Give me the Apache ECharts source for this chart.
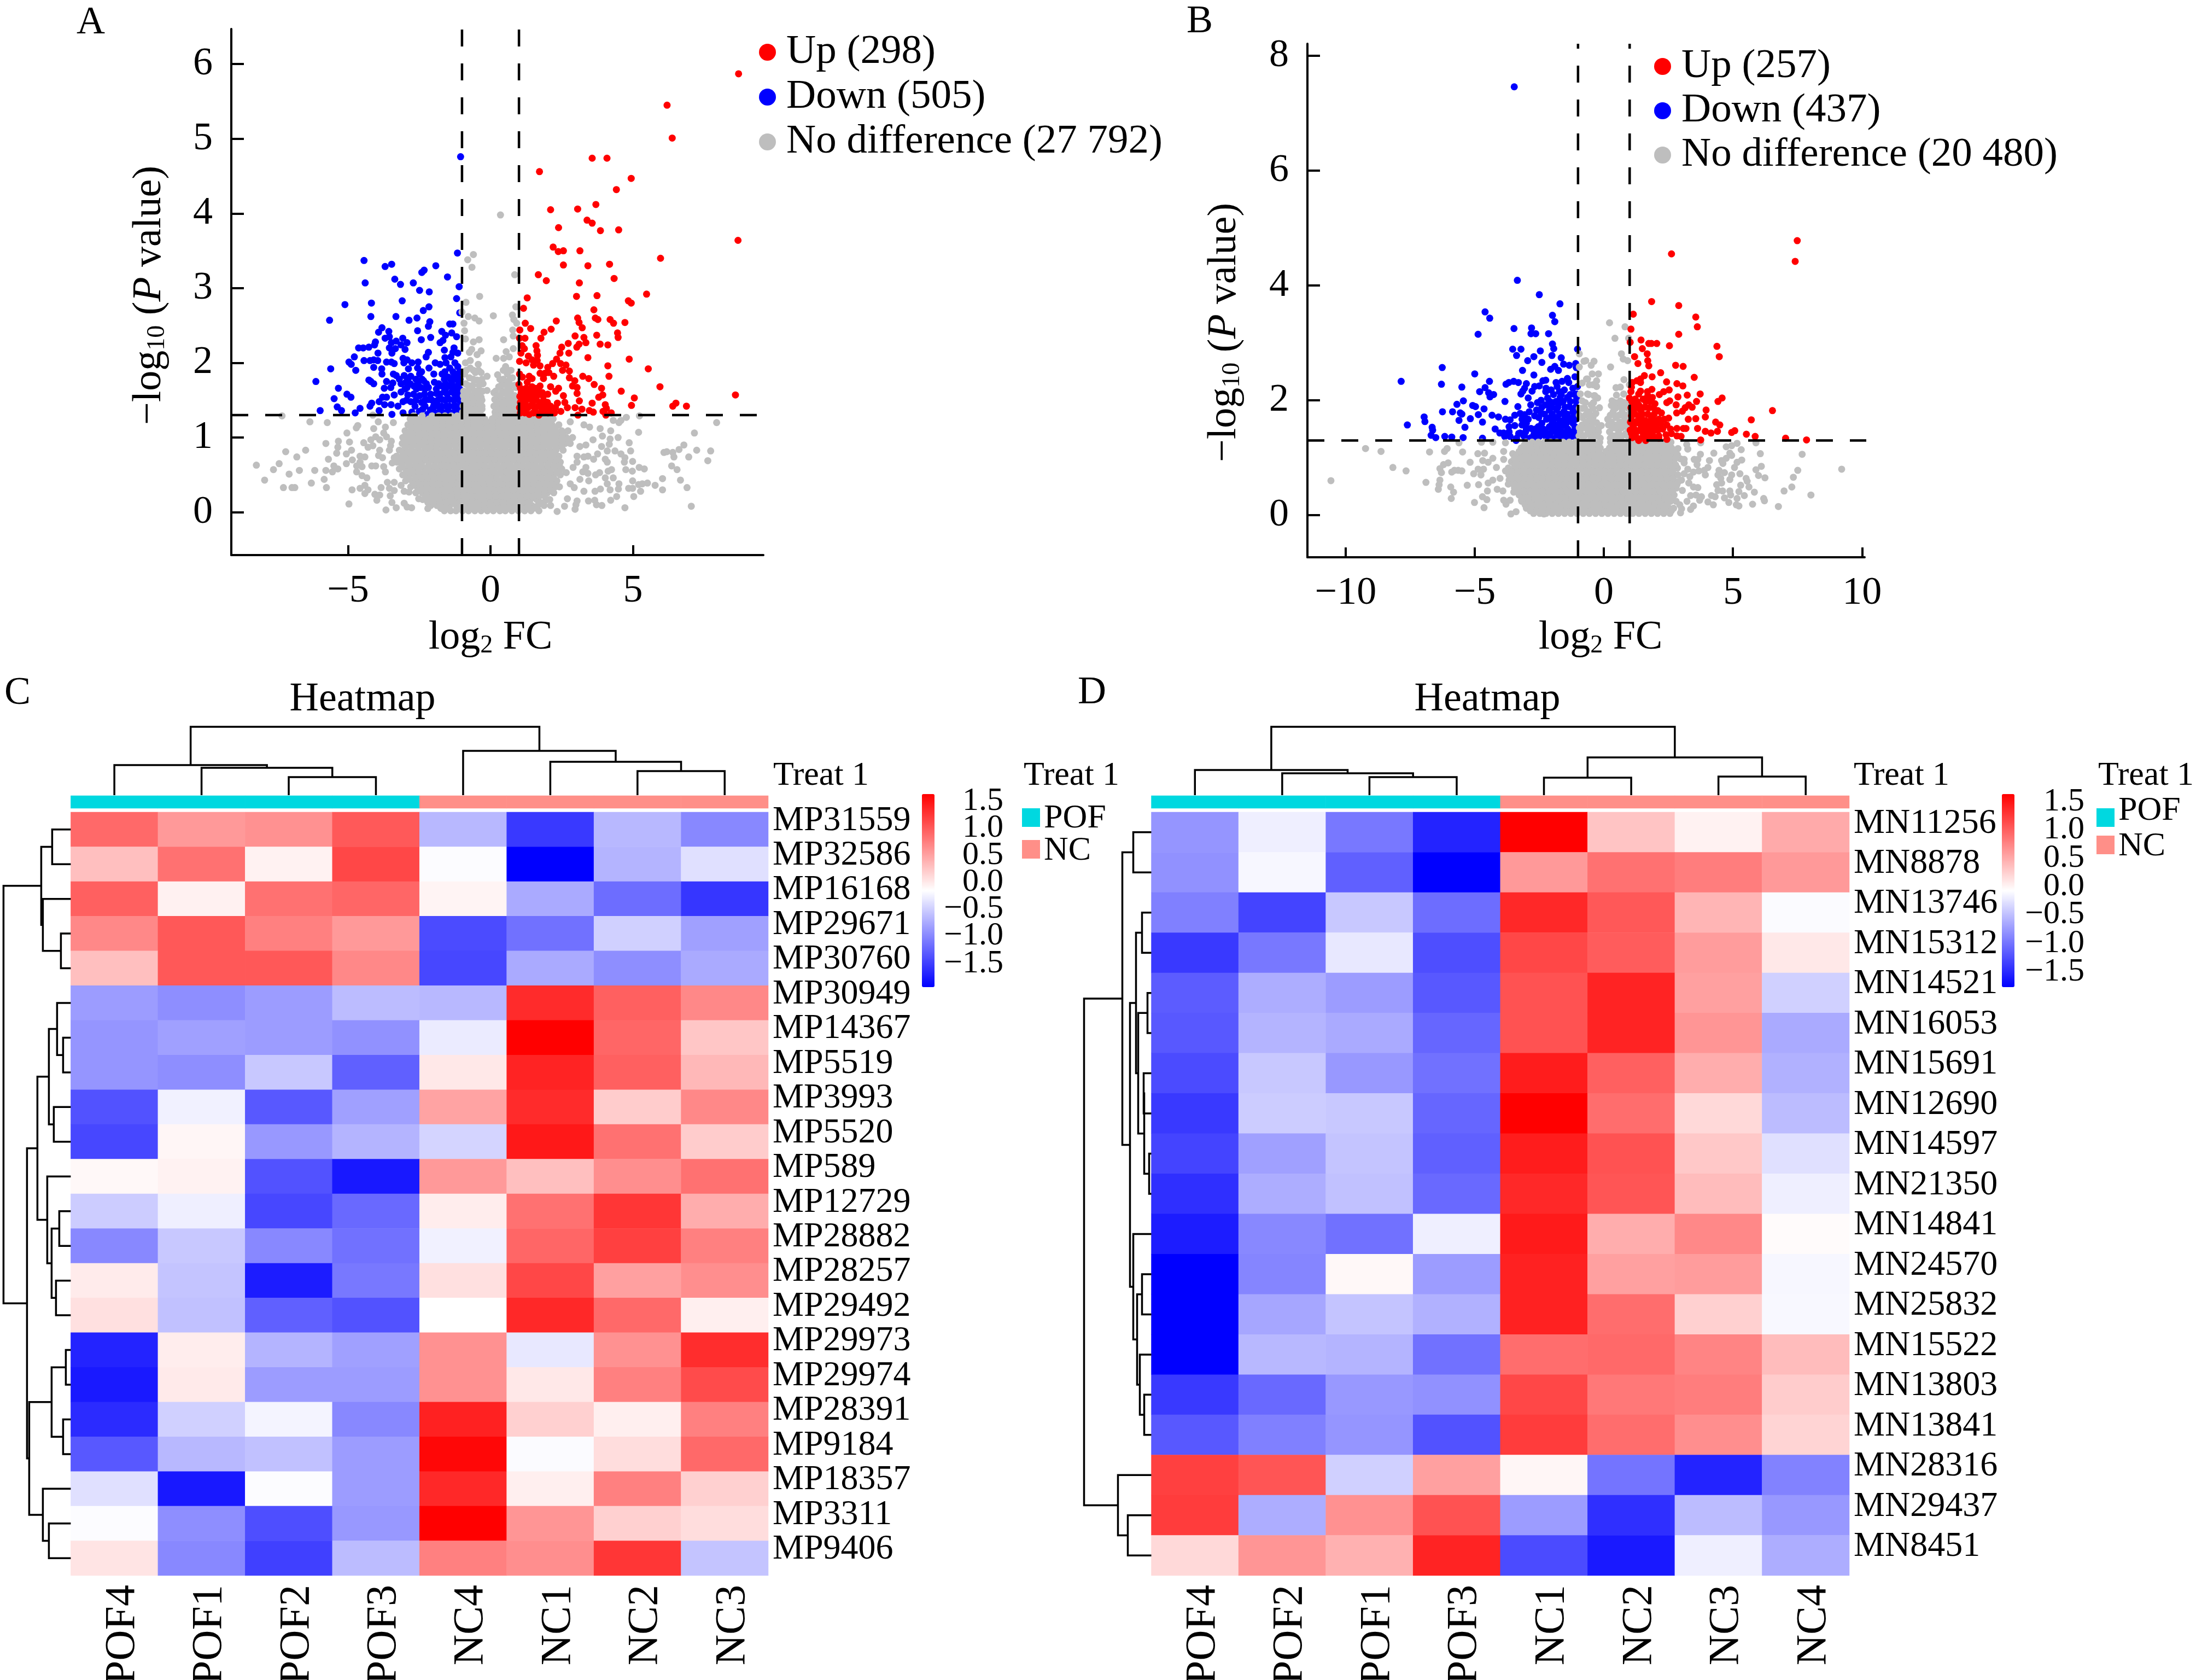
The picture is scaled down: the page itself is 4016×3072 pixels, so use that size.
<!DOCTYPE html>
<html><head><meta charset="utf-8">
<script src="https://cdn.jsdelivr.net/npm/echarts@6/dist/echarts.min.js"></script>
<style>html,body{margin:0;padding:0;background:#fff}#c{width:4016px;height:3072px}</style>
</head><body><div id="c"></div>
<script>
const FONT='"Liberation Serif"';
const fcCut=[-1,1], pCut=1.3;
const aUp=[[8.71,5.87],[6.2,5.45],[6.38,5.01],[3.57,4.74],[4.09,4.74],[1.72,4.56],[4.94,4.47],[4.42,4.32],[2.11,4.05],[3.06,4.06],[3.7,4.12],[3.39,3.91],[3.57,3.87],[2.39,3.81],[3.86,3.77],[4.5,3.78],[8.69,3.64],[5.97,3.4],[2.2,3.55],[2.38,3.49],[2.56,3.5],[3.14,3.5],[2.56,3.31],[3.42,3.3],[4.18,3.32],[1.68,3.18],[1.96,3.1],[4.34,3.13],[3.12,3.07],[5.48,2.92],[3.02,2.89],[3.74,2.9],[1.29,2.87],[4.84,2.83],[4.94,2.8],[1.16,2.73],[3.63,2.71],[3.06,2.6],[3.68,2.6],[3.77,2.58],[4.2,2.58],[4.32,2.53],[4.72,2.54],[2.31,2.56],[3.11,2.54],[3.22,2.47],[1.22,2.53],[1.41,2.46],[1.03,2.44],[2.13,2.45],[1.88,2.41],[4.46,2.4],[4.48,2.34],[3.73,2.37],[2.97,2.36],[3.28,2.34],[1.77,2.33],[1.21,2.33],[1.02,2.33],[3.35,2.27],[2.73,2.26],[3.11,2.25],[3.03,2.21],[3.85,2.25],[4.12,2.24],[2.5,2.21],[1.6,2.23],[1.11,2.23],[1.19,2.19],[1.07,2.13],[1.63,2.16],[2.44,2.13],[2.75,2.13],[3.42,2.07],[4.87,2.05],[1.33,2.09],[1.65,2.1],[1.02,2.02],[2.32,2.05],[1.46,2.04],[1.64,2.03],[1.25,2],[1.51,1.97],[1.74,1.96],[2.18,1.99],[2.46,1.99],[2.65,1.97],[2.01,1.94],[4.12,1.96],[5.54,1.92],[2.53,1.9],[2.77,1.89],[1.74,1.86],[1.91,1.86],[2.05,1.87],[1.02,1.85],[4.16,1.82],[2.22,1.82],[1.36,1.82],[1.46,1.79],[1.12,1.81],[3.24,1.82],[3.45,1.79],[2.77,1.8],[1.86,1.79],[1.29,1.74],[2.96,1.76],[1,1.71],[3.64,1.71],[1.74,1.69],[1.46,1.68],[2.88,1.69],[2.11,1.68],[2.39,1.66],[3.04,1.67],[3.9,1.66],[5.95,1.68],[4.59,1.62],[2.29,1.62],[1.12,1.63],[1.33,1.63],[1.53,1.61],[1.74,1.59],[2.01,1.58],[3.04,1.59],[2.56,1.56],[3.94,1.57],[3.8,1.54],[5.05,1.53],[8.6,1.57],[1.12,1.54],[1.36,1.52],[1.6,1.51],[1.91,1.48],[2.35,1.46],[2.61,1.47],[3.12,1.49],[3.57,1.46],[4.03,1.44],[4.95,1.43],[6.4,1.42],[6.51,1.46],[6.88,1.42],[1.16,1.44],[1.43,1.43],[1.67,1.42],[2.11,1.42],[2.7,1.4],[2.97,1.4],[3.21,1.38],[3.47,1.36],[3.61,1.34],[4.07,1.39],[4.24,1.33],[3.95,1.35],[2.47,1.35],[1.09,1.35],[1.36,1.31],[1.7,1.3],[1.91,1.35],[2.11,1.34],[3.07,1.3],[4.05,1.3]];
const aUpFill=[[1.33,1.05,1.2,1.5,1.62,1.8,2.02,2.25],[1.4,1.02,1.24,1.32,1.55,1.78,1.85,2.0,2.28],[1.47,1.05,1.22,1.48,1.72,1.8,2.0],[1.55,1.03,1.25,1.47,1.62,1.85],[1.6,1.08,1.22,1.42,1.62,1.82],[1.66,1.05,1.25,1.55,1.65]];
const aDown=[[-1.05,4.76],[-1.16,3.47],[-4.44,3.37],[-3.7,3.29],[-3.47,3.32],[-2.41,3.21],[-2.33,3.24],[-1.92,3.3],[-1.51,3.15],[-3.36,3.12],[-3.16,3.05],[-2.71,3.07],[-4.4,3.07],[-1.1,3.02],[-2.49,2.97],[-2.15,2.95],[-1.19,2.86],[-3.1,2.83],[-4.18,2.8],[-5.11,2.78],[-2.16,2.75],[-2.36,2.7],[-1.08,2.67],[-4.2,2.62],[-3.32,2.62],[-2.58,2.6],[-2.86,2.57],[-5.65,2.57],[-2.13,2.55],[-2.18,2.49],[-1.43,2.52],[-1.32,2.52],[-3.81,2.47],[-3.93,2.41],[-3.57,2.42],[-2.56,2.43],[-1.71,2.42],[-1.36,2.4],[-1.58,2.37],[-1.19,2.35],[-3.7,2.33],[-3.55,2.35],[-2.1,2.34],[-2.43,2.31],[-3.08,2.33],[-3.31,2.29],[-2.93,2.27],[-1.67,2.3],[-1.77,2.27],[-4.04,2.28],[-4.07,2.24],[-3.48,2.27],[-3.14,2.24],[-3.55,2.2],[-3.34,2.19],[-3,2.18],[-4.63,2.2],[-4.47,2.2],[-4.27,2.21],[-1.28,2.2],[-3.95,2.13],[-3.46,2.13],[-2.18,2.14],[-1.62,2.17],[-1.15,2.13],[-1.32,2.14],[-2.26,2.08],[-1.39,2.08],[-4.78,2.08],[-4.97,2.01],[-4.89,1.98],[-4.44,2.03],[-4.23,2.03],[-4.1,2.04],[-3.96,2.03],[-3.65,2.01],[-3.48,2.01],[-3.38,1.99],[-3.07,2.06],[-2.93,2.04],[-3.04,2],[-4.1,1.94],[-3.82,1.92],[-4.73,1.9],[-5.61,1.92],[-2.76,2],[-2.54,2.01],[-1.94,2],[-1.77,1.98],[-1.6,2.07],[-1.56,2],[-1.25,2],[-1.15,1.95],[-2.88,1.92],[-2.56,1.93],[-2.16,1.93],[-1.43,1.93],[-1.99,1.85],[-3.81,1.85],[-3.41,1.85],[-3.31,1.83],[-3.03,1.83],[-2.8,1.82],[-2.49,1.85],[-1.7,1.85],[-1.15,1.85],[-6.13,1.75],[-4.27,1.77],[-4.1,1.72],[-4.2,1.75],[-3.65,1.75],[-3.43,1.73],[-3.14,1.72],[-2.97,1.74],[-2.35,1.76],[-1.97,1.74],[-1.49,1.81],[-1.29,1.81],[-5.34,1.66],[-3.73,1.66],[-3.5,1.67],[-2.93,1.67],[-2.69,1.69],[-2.45,1.67],[-2.18,1.67],[-1.7,1.69],[-1.43,1.69],[-1.15,1.69],[-5.04,1.58],[-4.9,1.54],[-5.49,1.52],[-3.38,1.57],[-3.14,1.61],[-2.9,1.57],[-2.49,1.56],[-1.9,1.59],[-1.63,1.61],[-1.36,1.61],[-1.15,1.59],[-3.65,1.54],[-3.79,1.54],[-3.91,1.48],[-3.72,1.44],[-3.49,1.44],[-4.17,1.46],[-4.23,1.42],[-5.38,1.41],[-5.23,1.36],[-5.98,1.36],[-3.25,1.42],[-3.07,1.48],[-2.8,1.48],[-2.42,1.47],[-2.18,1.51],[-1.97,1.48],[-1.7,1.51],[-1.43,1.51],[-1.15,1.51],[-4.58,1.39],[-4.75,1.33],[-3.91,1.36],[-3.46,1.31],[-3.07,1.33],[-2.76,1.34],[-2.38,1.38],[-2.11,1.37],[-1.84,1.42],[-1.56,1.42],[-1.29,1.42],[-1.15,1.35],[-2.21,1.31],[-1.84,1.33],[-1.56,1.33],[-1.36,1.33]];
const aDownFill=[[1.35,-2.5,-2.0,-1.72,-1.48,-1.25,-1.08],[1.42,-2.65,-2.3,-2.0,-1.72,-1.45,-1.2,-1.06],[1.5,-2.95,-2.62,-2.3,-2.05,-1.85,-1.58,-1.28,-1.08],[1.58,-2.7,-2.32,-2.1,-1.78,-1.52,-1.26,-1.06],[1.65,-3.0,-2.6,-2.3,-1.9,-1.58,-1.28,-1.08],[1.72,-2.82,-2.55,-2.25,-1.82,-1.58,-1.36,-1.12],[1.78,-3.2,-2.9,-2.62,-2.4,-1.62,-1.4,-1.2,-1.07],[1.88,-2.42,-1.6,-1.32,-1.08]];
const aGrayPts=[[-.6,3.45],[-.8,3.38],[-.65,3.28],[.85,3.18],[.35,3.98],[-.38,2.89],[-.86,2.81],[.89,2.75],[.1,2.63],[-1,2.68],[-.78,2.62],[-.55,2.6],[-.4,2.56],[-.93,2.53],[.77,2.64],[.82,2.58],[.92,2.53],[-.91,2.43],[.78,2.44],[.8,2.36],[-.88,2.32],[-.6,2.28],[-.4,2.31],[.46,2.31],[.8,2.19],[-.66,2.18],[-.33,2.16],[-.74,2.14],[-.47,2.11],[.55,2.15],[.2,2.06],[.46,2.06],[.66,2.08],[-.71,2.03],[-.88,2],[-.43,1.98],[.53,1.95],[-.71,1.93],[-.53,1.87],[-.33,1.87],[-.12,1.82],[.25,1.84],[.59,1.85],[-.91,1.85],[-.74,1.8],[-.47,1.77],[-.88,1.72],[-.26,1.72],[.53,1.74],[.77,1.8],[.29,1.68],[-.67,1.67],[-.4,1.64],[-.12,1.63],[.12,1.6],[.63,1.67],[.9,1.67],[-.88,1.59],[-.6,1.56],[-.33,1.54],[.42,1.59],[.73,1.56],[.15,1.51],
[-7.32,1.29],[-6.34,1.21],[-5.73,1.2],[-4.66,1.16],[-4.71,1.13],[-3.94,1.21],[-4.13,1.3],[-5.04,1.06],[-4.1,1.12],[-3.69,1.14],[-3.41,1.2],[-3.75,1.06],[-4.03,1.01],[-4.2,.97],[-3.89,.97],[-3.65,1.01],[-5.34,.95],[-4.95,.94],[-5.78,.92],[-4.45,.93],[-3.48,.95],[-3.51,.89],[-5.36,.87],[-4.13,.89],[-4.3,.87],[-6.49,.83],[-7.19,.81],[-5.4,.79],[-4.88,.83],[-5.06,.78],[-3.89,.83],[-3.55,.83],[-6.8,.74],[-5.69,.71],[-4.85,.7],[-4.58,.75],[-4.41,.74],[-3.93,.76],[-3.79,.73],[-8.22,.63],[-7.42,.65],[-5.06,.65],[-4.58,.67],[-3.38,.73],[-3.45,.66],[-7.62,.57],[-6.71,.56],[-6.17,.56],[-5.78,.56],[-5.5,.62],[-5.36,.58],[-5.55,.54],[-4.7,.62],[-4.51,.61],[-4.17,.62],[-4.03,.62],[-3.75,.61],[-4.7,.54],[-3.69,.54],[-7.07,.51],[-4.51,.49],[-4.34,.46],[-7.93,.43],[-5.84,.44],[-6.29,.39],[-7.27,.33],[-6.97,.33],[-6.87,.33],[-5.76,.33],[-4.41,.36],[-4.58,.32],[-4.3,.3],[-4.41,.25],[-4.86,.3],[-3.84,.33],[-3.62,.4],[-3.38,.4],[-3.55,.32],[-3.38,.29],[-4.06,.24],[-3.89,.23],[-3.99,.16],[-3.52,.22],[-3.46,.13],[-4.97,.11],[-3.03,.12],[-2.93,.07],[-2.77,.06],[-3.31,.06],[-3.67,.03],[-2.52,.18],[-2.2,.05],[-1.72,.05],[-3.03,.28],[-2.86,.27],[-3.14,.36],
[4.77,1.27],[5.23,1.29],[7.94,1.2],[4.31,1.23],[4.51,1.2],[4.58,1.23],[2.8,1.21],[3.28,1.17],[3.48,1.14],[3.85,1.12],[4.22,1.09],[5.2,1.07],[7.16,1.06],[3.93,1.02],[4.48,1],[4.2,.98],[3.6,.97],[4.87,.93],[6.79,.9],[3.35,.9],[3.14,.88],[3.9,.88],[4.17,.91],[4.1,.82],[4.37,.82],[4.92,.82],[6.62,.84],[7.24,.83],[7.73,.82],[6.09,.8],[6.19,.81],[6.4,.8],[6.44,.74],[6.96,.74],[7.63,.69],[4.58,.78],[4.72,.73],[3.76,.78],[3.62,.71],[3.28,.74],[3.42,.75],[4.03,.71],[4.1,.67],[4.7,.67],[4.99,.68],[3.04,.75],[3.04,.67],[2.9,.6],[3.35,.6],[6.36,.62],[6.55,.57],[5.22,.6],[5.4,.58],[4.75,.57],[4.98,.55],[4.25,.57],[4.13,.55],[3.24,.54],[3.42,.52],[3.83,.53],[3.69,.5],[2.66,.53],[4.03,.46],[4.31,.46],[6.04,.45],[6.67,.43],[4.99,.42],[5.51,.39],[5.33,.38],[5.2,.37],[5.78,.36],[3.45,.42],[3.14,.44],[4.1,.38],[4.51,.38],[4.85,.32],[4.99,.32],[4.49,.31],[4.2,.3],[6.04,.3],[6.9,.33],[5.27,.28],[3.86,.31],[3.67,.28],[3.28,.28],[2.94,.33],[2.8,.38],[4.43,.21],[5.03,.21],[4.22,.16],[3.66,.16],[3.44,.15],[3.04,.15],[2.7,.18],[3.72,.1],[3.91,.09],[3,.1],[2.97,.04],[2.6,.08],[2.34,.01],[4.72,.06],[7.05,.08],[1.7,.02],[2.11,.09],[1.94,.16]];
const aGrayRows=[
[.02,-1.62,-1.4,-1.21,-.98,-.77,-.55,-.33,-.11,.1,.33,.52,.75,.98,1.2,1.42],
[.09,-2.1,-1.88,-1.65,-1.43,-1.2,-.99,-.78,-.54,-.32,-.1,.12,.34,.56,.78,.99,1.22,1.45,1.66,1.88],
[.17,-2.38,-2.15,-1.92,-1.7,-1.5,-1.27,-1.03,-.82,-.6,-.38,-.15,.07,.3,.5,.73,.95,1.17,1.4,1.62,2.08],
[.26,-2.62,-2.4,-2.18,-1.96,-1.73,-1.52,-1.3,-1.08,-.85,-.63,-.42,-.2,.02,.25,.46,.68,.9,1.12,1.35,1.56,1.78,2,2.22],
[.34,-2.8,-2.58,-2.35,-2.13,-1.9,-1.68,-1.47,-1.25,-1.02,-.8,-.58,-.36,-.14,.08,.3,.52,.74,.96,1.18,1.4,1.62,1.84,2.06,2.28,2.42],
[.42,-2.98,-2.76,-2.53,-2.32,-2.1,-1.88,-1.65,-1.43,-1.2,-.98,-.77,-.55,-.32,-.1,.12,.35,.57,.78,1,1.22,1.45,1.67,1.88,2.1,2.33],
[.5,-3.08,-2.85,-2.63,-2.42,-2.2,-1.97,-1.75,-1.52,-1.3,-1.08,-.86,-.64,-.43,-.2,.02,.24,.46,.68,.9,1.12,1.34,1.56,1.78,2,2.22,2.45],
[.58,-3.2,-2.98,-2.75,-2.53,-2.3,-2.08,-1.86,-1.64,-1.42,-1.2,-.98,-.75,-.54,-.32,-.1,.13,.35,.57,.79,1.01,1.23,1.45,1.67,1.89,2.11,2.33,2.5],
[.67,-3.28,-3.06,-2.84,-2.62,-2.4,-2.17,-1.95,-1.73,-1.5,-1.28,-1.06,-.85,-.63,-.41,-.19,.03,.25,.47,.69,.91,1.13,1.35,1.57,1.79,2.01,2.23,2.45],
[.75,-3.3,-3.1,-2.88,-2.66,-2.44,-2.22,-2,-1.78,-1.55,-1.33,-1.12,-.9,-.68,-.46,-.24,-.02,.2,.42,.64,.86,1.08,1.3,1.52,1.74,1.96,2.18,2.4],
[.83,-3.2,-2.98,-2.76,-2.54,-2.31,-2.09,-1.88,-1.66,-1.44,-1.22,-1,-.78,-.56,-.34,-.12,.1,.32,.54,.76,.98,1.2,1.42,1.64,1.86,2.08,2.3,2.55],
[.92,-3.1,-2.88,-2.66,-2.44,-2.22,-2,-1.78,-1.56,-1.34,-1.12,-.9,-.68,-.46,-.24,-.02,.2,.42,.64,.86,1.08,1.3,1.52,1.74,1.96,2.18,2.4,2.62,2.8],
[1,-3.08,-2.86,-2.64,-2.42,-2.2,-1.98,-1.76,-1.54,-1.32,-1.1,-.88,-.66,-.44,-.22,0,.22,.44,.66,.88,1.1,1.32,1.54,1.76,1.98,2.2,2.42,2.66,2.88],
[1.09,-3,-2.78,-2.56,-2.34,-2.12,-1.9,-1.68,-1.46,-1.24,-1.02,-.8,-.58,-.36,-.14,.08,.3,.52,.74,.96,1.18,1.4,1.62,1.84,2.06,2.28,2.5,2.72],
[1.17,-2.9,-2.68,-2.46,-2.24,-2.02,-1.8,-1.58,-1.36,-1.14,-.92,-.7,-.48,-.26,-.04,.18,.4,.62,.84,1.06,1.28,1.5,1.72,1.94,2.16,2.4],
[1.25,-2.82,-2.6,-2.38,-2.16,-1.94,-1.72,-1.5,-1.28,-1.06,-.84,-.62,-.4,-.2,.06,.28,.5,.72,.94,1.16,1.38,1.6,1.82,2.04,2.2],
[1.34,-.98,-.78,-.58,-.38,.16,.36,.56,.76,.95],[1.42,-.96,-.74,-.52,-.3,.12,.32,.52,.72,.9],[1.5,-.92,-.72,-.5,-.3,.3,.5,.7,.92],[1.62,-.94,-.78,-.55,-.28,.18,.42,.55,.7]];
const aGrayRows2=[
[.055,-1.75,-1.5,-1.1,-.87,-.66,-.43,-.2,.02,.21,.45,.64,.87,1.1,1.32,1.55],
[.13,-2.2,-2,-1.78,-1.53,-1.31,-1.09,-.87,-.66,-.42,-.2,.01,.23,.45,.67,.89,1.1,1.33,1.75],
[.215,-2.25,-2,-1.8,-1.6,-1.38,-1.14,-.93,-.7,-.48,-.26,-.05,.18,.4,.62,.84,1.06,1.28,1.5,1.72,1.9],
[.3,-2.5,-2.28,-2.06,-1.84,-1.62,-1.4,-1.18,-.96,-.74,-.52,-.3,-.08,.14,.36,.58,.8,1.02,1.24,1.46,1.68,1.9,2.12],
[.38,-2.7,-2.46,-2.24,-2.02,-1.8,-1.58,-1.36,-1.14,-.9,-.68,-.46,-.24,-.02,.2,.42,.64,.86,1.08,1.3,1.52,1.74,1.96,2.18],
[.46,-2.88,-2.64,-2.42,-2.2,-1.98,-1.76,-1.54,-1.32,-1.1,-.88,-.66,-.44,-.22,0,.22,.46,.68,.9,1.12,1.34,1.56,1.78,2,2.22],
[.54,-2.95,-2.74,-2.52,-2.3,-2.08,-1.86,-1.64,-1.42,-1.2,-.97,-.75,-.53,-.31,-.09,.13,.35,.57,.79,1.01,1.23,1.45,1.67,1.89,2.11,2.34],
[.625,-3.1,-2.86,-2.64,-2.42,-2.18,-1.96,-1.74,-1.53,-1.31,-1.09,-.86,-.65,-.43,-.21,.02,.24,.46,.68,.9,1.12,1.34,1.56,1.78,2,2.22,2.42],
[.71,-3.17,-2.95,-2.73,-2.51,-2.29,-2.06,-1.84,-1.62,-1.39,-1.17,-.96,-.74,-.52,-.3,-.08,.14,.36,.58,.8,1.02,1.24,1.46,1.68,1.9,2.12,2.34],
[.79,-3.02,-2.82,-2.6,-2.38,-2.16,-1.94,-1.72,-1.5,-1.28,-1.05,-.84,-.62,-.4,-.18,.04,.26,.48,.7,.92,1.14,1.36,1.58,1.8,2.02,2.24],
[.875,-3.0,-2.77,-2.55,-2.33,-2.11,-1.89,-1.67,-1.45,-1.23,-1.01,-.79,-.57,-.35,-.13,.09,.31,.53,.75,.97,1.19,1.41,1.63,1.85,2.07,2.29,2.5],
[.96,-2.98,-2.76,-2.54,-2.32,-2.1,-1.88,-1.66,-1.44,-1.22,-1,-.78,-.56,-.34,-.12,.1,.32,.54,.76,.98,1.2,1.42,1.64,1.86,2.08,2.3,2.52,2.75],
[1.045,-2.96,-2.74,-2.52,-2.3,-2.08,-1.86,-1.64,-1.42,-1.2,-.98,-.76,-.54,-.32,-.1,.12,.34,.56,.78,1,1.22,1.44,1.66,1.88,2.1,2.32,2.54],
[1.13,-2.78,-2.56,-2.34,-2.12,-1.9,-1.68,-1.46,-1.24,-1.02,-.8,-.58,-.36,-.14,.08,.3,.52,.74,.96,1.18,1.4,1.62,1.84,2.06,2.28],
[1.21,-2.78,-2.56,-2.34,-2.12,-1.9,-1.68,-1.46,-1.24,-1.02,-.8,-.58,-.36,-.14,.08,.3,.52,.74,.96,1.18,1.4,1.62,1.84,2.06],
[1.29,-2.7,-2.4,-2.05,-1.82,-1.6,-1.38,-1.17,-.95,-.72,-.5,-.3,.17,.4,.62,.84,1.05,1.28,1.5,1.7,1.95],
[1.38,-.87,-.68,-.47,-.3,.25,.46,.66,.86],[1.46,-.85,-.62,-.4,.22,.42,.62,.82],[1.56,-.95,-.78,-.62,-.45,.25,.35,.6,.85],[1.7,-.8,-.62,-.4,.38,.55,.72,.85],[1.78,-.6,-.3,.33,.45,.68],[1.9,-.85,-.6,-.42,.45,.62,.72]];
const bUp=[[7.49,4.78],[7.41,4.42],[2.62,4.55],[1.85,3.72],[2.9,3.65],[1.14,3.5],[3.56,3.45],[3.62,3.28],[1.05,3.24],[2.9,3.15],[1.02,3.01],[1.44,3.05],[1.74,2.99],[2.05,2.99],[1.84,2.99],[2.54,2.95],[4.38,2.94],[4.47,2.76],[1.49,2.9],[1.68,2.81],[1.19,2.76],[1.7,2.69],[1.74,2.6],[1.32,2.64],[2.78,2.61],[3.07,2.59],[2.2,2.48],[1.87,2.41],[1.57,2.43],[3.5,2.4],[1.42,2.37],[1.28,2.34],[2.43,2.32],[1.1,2.31],[1.42,2.31],[2.83,2.29],[3.06,2.25],[1.07,2.23],[2.53,2.18],[2.32,2.15],[2.15,2.1],[1.86,2.19],[1.69,2.15],[1.42,2.16],[1.05,2.15],[1.35,2.11],[3.23,2.09],[3.73,2.11],[2.87,2.06],[1.88,2.05],[1.7,2.08],[.99,2.04],[1.21,2.02],[1.52,2.02],[4.58,2.04],[4.42,1.98],[3.59,1.98],[2.55,1.99],[2.44,1.96],[1.98,1.94],[1.14,1.94],[1.35,1.92],[1.6,1.88],[2.8,1.92],[3.29,1.92],[3.15,1.87],[3.42,1.88],[3.96,1.83],[6.53,1.82],[2.09,1.82],[2.23,1.78],[3.04,1.81],[2.82,1.78],[1.14,1.8],[1.42,1.83],[3.93,1.71],[1.84,1.71],[1.35,1.72],[1.07,1.73],[5.71,1.66],[3.27,1.67],[3.56,1.68],[2.51,1.69],[2.34,1.67],[2.13,1.67],[1.6,1.65],[1.03,1.62],[4.33,1.62],[4.49,1.57],[1.28,1.61],[1.91,1.57],[2.2,1.59],[2.44,1.57],[3.63,1.51],[2.83,1.51],[3.08,1.51],[3.18,1.51],[2.28,1.5],[2.58,1.5],[1.14,1.54],[1.56,1.54],[1.81,1.51],[3.93,1.46],[4.15,1.43],[4.4,1.46],[4.95,1.44],[5.07,1.47],[5.52,1.41],[5.86,1.37],[7.04,1.34],[7.85,1.31],[3.75,1.31],[2.99,1.37],[2.83,1.38],[2.62,1.42],[2.13,1.38],[2.41,1.4],[1.07,1.42],[1.24,1.43],[1.49,1.45],[1.7,1.42],[1.88,1.42],[1.35,1.3],[1.62,1.3],[2.44,1.32],[1.1,1.35],[1.49,1.35],[1.77,1.35],[2.13,1.34]];
const bUpFill=[[1.36,1.25,1.62,1.92],[1.48,1.02,1.22,1.38,1.65,1.95,2.1],[1.58,1.12,1.42,1.72,2.05],[1.65,1.08,1.32,1.48,1.82,2.0],[1.76,1.2,1.5,1.7,1.95],[1.87,1.05,1.25,1.5,1.75,1.92],[1.98,1.08,1.28,1.62,1.8]];
const bDown=[[-3.47,7.46],[-3.35,4.09],[-2.5,3.84],[-1.7,3.68],[-4.6,3.54],[-4.42,3.43],[-1.99,3.48],[-1.9,3.37],[-3.48,3.25],[-2.8,3.26],[-2.82,3.16],[-2.64,3.16],[-2.14,3.16],[-4.87,3.15],[-3.53,2.89],[-3.21,2.89],[-2.46,2.86],[-3.38,2.78],[-2.71,2.76],[-1.99,2.98],[-1.94,2.9],[-2.01,2.78],[-1.02,2.89],[-1.65,2.74],[-2.95,2.69],[-2.4,2.66],[-1.56,2.63],[-1.34,2.61],[-1.09,2.64],[-1.07,2.57],[-2.06,2.54],[-1.9,2.59],[-1.76,2.52],[-6.26,2.57],[-5,2.46],[-3.15,2.52],[-2.71,2.44],[-1.12,2.41],[-7.85,2.33],[-6.29,2.28],[-4.43,2.33],[-5.5,2.23],[-3.79,2.28],[-3.68,2.31],[-3.49,2.33],[-3.31,2.31],[-3,2.29],[-2.36,2.34],[-2.25,2.35],[-1.85,2.31],[-1.62,2.33],[-1.41,2.38],[-1.36,2.31],[-1.81,2.24],[-4.6,2.22],[-4.81,2.15],[-4.46,2.13],[-4.27,2.1],[-4.41,2.06],[-3.07,2.21],[-3.14,2.16],[-3.21,2.11],[-2.68,2.24],[-2.78,2.16],[-2.5,2.25],[-2.24,2.21],[-2.25,2.15],[-2.04,2.18],[-1.72,2.15],[-1.53,2.18],[-1.2,2.21],[-1.02,2.24],[-1.05,2.11],[-2.93,2.04],[-1.69,2.05],[-1.41,2.05],[-1.05,2.03],[-5.44,1.99],[-3.83,1.98],[-2.18,2.04],[-2.43,2],[-2.57,1.96],[-2.83,1.92],[-3.33,1.89],[-5.69,1.93],[-5.08,1.91],[-4.97,1.89],[-4.64,1.85],[-2.25,1.92],[-1.97,1.96],[-1.69,1.96],[-1.34,1.89],[-2.61,1.83],[-2.89,1.8],[-2.43,1.78],[-2.11,1.83],[-1.83,1.84],[-1.55,1.8],[-1.2,1.8],[-6.25,1.8],[-5.86,1.8],[-5.56,1.78],[-5.5,1.76],[-4.86,1.75],[-4.33,1.74],[-4.08,1.71],[-3.45,1.74],[-3.24,1.77],[-3.07,1.75],[-2.68,1.73],[-1.02,1.75],[-6.96,1.71],[-6.93,1.63],[-5.61,1.65],[-5.17,1.68],[-4.7,1.62],[-3.81,1.67],[-3.63,1.66],[-3.17,1.67],[-2.93,1.67],[-2.22,1.67],[-1.94,1.67],[-1.62,1.64],[-1.34,1.67],[-1.09,1.67],[-7.61,1.57],[-5.38,1.53],[-6.65,1.53],[-6.63,1.48],[-3.67,1.54],[-3.45,1.56],[-3.17,1.57],[-2.82,1.51],[-2.54,1.54],[-2.11,1.54],[-1.87,1.57],[-1.55,1.56],[-1.12,1.54],[-4.21,1.5],[-4.03,1.43],[-3.88,1.43],[-3.67,1.45],[-3.24,1.43],[-3.03,1.45],[-2.54,1.45],[-2.25,1.45],[-1.9,1.46],[-1.62,1.45],[-1.27,1.45],[-6.69,1.39],[-6.51,1.35],[-6.16,1.37],[-5.89,1.36],[-5.45,1.35],[-4.7,1.34],[-3.84,1.37],[-3.63,1.37],[-3.38,1.34],[-3.1,1.38],[-2.82,1.35],[-2.5,1.37],[-2.25,1.37],[-1.76,1.37],[-1.48,1.37],[-1.2,1.38],[-3.4,1.3]];
const bDownFill=[[1.34,-3.0,-2.65,-2.05,-1.9,-1.62,-1.35,-1.08],[1.42,-3.3,-2.7,-2.4,-2.08,-1.8,-1.45,-1.12],[1.5,-3.0,-2.65,-2.35,-2.0,-1.75,-1.4,-1.06],[1.6,-3.0,-2.4,-2.0,-1.72,-1.45,-1.2],[1.7,-2.52,-2.08,-1.8,-1.5,-1.2,-1.05],[1.76,-2.3,-2.0,-1.72,-1.42,-1.1],[1.88,-2.4,-2.02,-1.78,-1.5,-1.1],[1.98,-2.1,-1.85,-1.58,-1.3,-1.08],[2.1,-1.95,-1.65,-1.3,-1.12]];
const bGrayPts=[[.22,3.35],[.82,3.28],[.43,3.08],[.96,3.08],[.68,2.81],[.92,2.69],[.75,2.72],[.26,2.58],[-.38,2.68],[-.49,2.61],[-.7,2.69],[-.45,2.46],[-.21,2.46],[.78,2.36],[.99,2.27],[-.63,2.37],[-.28,2.34],[-.56,2.27],[-.28,2.24],[.47,2.22],[.64,2.23],[.49,2.09],[.77,2.11],[-.59,2.1],[-.38,2.08],[-.24,2.04],[.32,1.99],[.64,1.99],[.29,1.91],[.57,1.92],[.82,1.92],[-.49,1.92],[-.17,1.87],[.36,1.8],[.71,1.8],[-.59,1.8],[-.31,1.77],[.15,1.67],[.47,1.7],[.82,1.7],[-.56,1.65],[-.1,1.56],[-.28,1.61],[-.63,1.56],[.18,1.57],[.5,1.57],[.82,1.57],[-.21,1.45],[-.52,1.45],[.22,1.45],[.57,1.45],[.85,1.42],[.25,1.34],[.61,1.34],[-.49,1.34],[-.14,1.34],
[-.95,2.81],[-.77,2.68],[-.95,2.58],[-.67,2.37],[-.84,2.3],[-.42,2.27],[-.91,2.11],[-.63,2.11],[-.35,2.08],[-.84,1.99],[-.84,1.86],[-.63,1.77],[-.84,1.7],[-.42,1.7],[-.84,1.57],[-.91,1.45],[-.63,1.42],[-.35,1.48],[-.84,1.35],
[-9.23,1.16],[-8.63,1.11],[-6.75,1.1],[-6.17,1.11],[-6.07,1.16],[-5.61,1.26],[-5.47,1.1],[-4.74,1.27],[-4.3,1.27],[-4.88,1.07],[-4.62,1.08],[-8.17,.83],[-7.66,.77],[-10.57,.6],[-5.18,.92],[-4.69,.95],[-4.48,.92],[-4.3,.99],[-6.35,.81],[-6.21,.88],[-6.03,.91],[-6.29,.74],[-5.89,.75],[-5.79,.78],[-5.64,.78],[-5.5,.77],[-5.04,.72],[-4.87,.8],[-4.66,.8],[-4.76,.7],[-6.35,.61],[-6.89,.57],[-6.38,.53],[-6.41,.45],[-5.29,.52],[-4.85,.53],[-4.48,.56],[-4.3,.61],[-5.93,.49],[-5.82,.4],[-5.91,.29],[-4.51,.42],[-4.7,.32],[-4.53,.27],[-5.01,.22],[-4.64,.13],[-4.02,.64],[-4.13,.45],[-3.91,.42],[-3.6,.02],[-3.4,.06],[-2.84,.09],[-3.19,.26],[-2.84,.25],[-3.79,.19],[-3.88,.26],[-3.63,.26],[-2.32,.02],[-2.5,.08],[-3.81,.77],[-4.16,.83],[-3.88,.97],[-3.53,1.07],[-3.81,1.26],[-3.88,1.11],[-3.17,1.13],[-3.67,.61],[-3.38,.84],[-3.7,.54],[-3.49,.4],
[9.21,.8],[7.68,1.06],[5.89,1.26],[6.06,1.07],[5.16,1.25],[5.32,1.14],[4.74,1.19],[4.95,1.21],[4.88,1.08],[4.26,1.08],[3.74,1.06],[3.75,1.26],[3.25,1.15],[3.21,1.23],[2.87,1.16],[3.5,.97],[3.64,.97],[2.97,.98],[3.11,.97],[3.11,.91],[3.61,.88],[4.09,.95],[4.56,.95],[4.74,.99],[4.95,1.04],[5.34,.96],[5.16,.92],[4.61,.9],[5.06,.83],[6.1,.85],[5.89,.79],[7.51,.78],[4.03,.83],[3.89,.78],[2.76,.83],[2.58,.75],[3.25,.8],[3.47,.75],[3.68,.77],[4.46,.78],[4.67,.74],[4.95,.7],[5.27,.72],[3.93,.7],[2.87,.7],[3.11,.72],[5.99,.69],[6.24,.65],[7.34,.66],[4.42,.7],[3.33,.67],[5.51,.64],[4.88,.62],[3.01,.61],[4.53,.64],[5.55,.59],[7.28,.49],[6.98,.42],[8.02,.35],[3.29,.56],[3.64,.48],[3.47,.49],[2.83,.53],[5.3,.52],[4.37,.53],[4.56,.56],[5.62,.49],[5.83,.4],[5.23,.41],[4.42,.43],[4.6,.42],[4.88,.42],[4.91,.35],[5.44,.34],[4.17,.34],[4.31,.32],[4.67,.3],[5.16,.29],[6.19,.29],[6.22,.25],[3.36,.34],[3.57,.35],[3.78,.32],[3.71,.26],[3.04,.43],[4.03,.23],[4.24,.18],[4.84,.22],[5.13,.18],[5.23,.16],[5.76,.19],[6.76,.15],[2.94,.18],[3.47,.16],[3.36,.1],[2.97,.04],[3.01,.11],[3.22,.24],[2.62,.08]];
const bGrayRows=[
[.03,-2.72,-2.48,-2.24,-2,-1.76,-1.52,-1.28,-1.04,-.8,-.56,-.32,-.08,.16,.4,.64,.88,1.12,1.36,1.6,1.84,2.08,2.32,2.56],
[.12,-3,-2.76,-2.52,-2.28,-2.04,-1.8,-1.56,-1.32,-1.08,-.84,-.6,-.36,-.12,.12,.36,.6,.84,1.08,1.32,1.56,1.8,2.04,2.28,2.52,2.7],
[.24,-3.18,-2.94,-2.7,-2.46,-2.22,-1.98,-1.74,-1.5,-1.26,-1.02,-.78,-.54,-.3,-.06,.18,.42,.66,.9,1.14,1.38,1.62,1.86,2.1,2.34,2.58,2.8],
[.35,-3.28,-3.04,-2.8,-2.56,-2.32,-2.08,-1.84,-1.6,-1.36,-1.12,-.88,-.64,-.4,-.16,.08,.32,.56,.8,1.04,1.28,1.52,1.76,2,2.24,2.48,2.72],
[.47,-3.46,-3.22,-2.98,-2.74,-2.5,-2.26,-2.02,-1.78,-1.54,-1.3,-1.06,-.82,-.58,-.34,-.1,.14,.38,.62,.86,1.1,1.34,1.58,1.82,2.06,2.3,2.54,2.8],
[.58,-3.6,-3.36,-3.12,-2.88,-2.64,-2.4,-2.16,-1.92,-1.68,-1.44,-1.2,-.96,-.72,-.48,-.24,0,.24,.48,.72,.96,1.2,1.44,1.68,1.92,2.16,2.4,2.64,2.88],
[.7,-3.68,-3.44,-3.2,-2.96,-2.72,-2.48,-2.24,-2,-1.76,-1.52,-1.28,-1.04,-.8,-.56,-.32,-.08,.16,.4,.64,.88,1.12,1.36,1.6,1.84,2.08,2.32,2.56,2.75],
[.82,-3.7,-3.46,-3.22,-2.98,-2.74,-2.5,-2.26,-2.02,-1.78,-1.54,-1.3,-1.06,-.82,-.58,-.34,-.1,.14,.38,.62,.86,1.1,1.34,1.58,1.82,2.06,2.3,2.54,2.85],
[.93,-3.58,-3.34,-3.1,-2.86,-2.62,-2.38,-2.14,-1.9,-1.66,-1.42,-1.18,-.94,-.7,-.46,-.22,.02,.26,.5,.74,.98,1.22,1.46,1.7,1.94,2.18,2.42,2.66],
[1.05,-3.4,-3.16,-2.92,-2.68,-2.44,-2.2,-1.96,-1.72,-1.48,-1.24,-1,-.76,-.52,-.28,-.04,.2,.44,.68,.92,1.16,1.4,1.64,1.88,2.12,2.36,2.6,2.85],
[1.17,-3.2,-2.96,-2.72,-2.48,-2.24,-2,-1.76,-1.52,-1.28,-1.04,-.8,-.56,-.32,-.14,.22,.46,.7,.94,1.18,1.42,1.66,1.9,2.14,2.38,2.62],
[1.27,-3.02,-2.78,-2.54,-2.3,-2.06,-1.82,-1.58,-1.34,-1.1,-.86,-.62,-.38,-.16,.26,.5,.74,.98,1.22,1.46,1.7,1.94,2.18,2.42,2.6]];
const bGrayRows2=[
[.075,-2.85,-2.6,-2.36,-2.12,-1.88,-1.64,-1.4,-1.16,-.92,-.68,-.44,-.2,.04,.28,.52,.76,1,1.24,1.48,1.72,1.96,2.2,2.44],
[.18,-3.05,-2.82,-2.58,-2.34,-2.1,-1.86,-1.62,-1.38,-1.14,-.9,-.66,-.42,-.18,.06,.3,.54,.78,1.02,1.26,1.5,1.74,1.98,2.22,2.46],
[.295,-3.16,-2.92,-2.68,-2.44,-2.2,-1.96,-1.72,-1.48,-1.24,-1,-.76,-.52,-.28,-.04,.2,.44,.68,.92,1.16,1.4,1.64,1.88,2.12,2.36,2.6],
[.41,-3.34,-3.1,-2.86,-2.62,-2.38,-2.14,-1.9,-1.66,-1.42,-1.18,-.94,-.7,-.46,-.22,.02,.26,.5,.74,.98,1.22,1.46,1.7,1.94,2.18,2.42,2.66],
[.525,-3.48,-3.24,-3,-2.76,-2.52,-2.28,-2.04,-1.8,-1.56,-1.32,-1.08,-.84,-.6,-.36,-.12,.12,.36,.6,.84,1.08,1.32,1.56,1.8,2.04,2.28,2.52,2.72],
[.64,-3.56,-3.32,-3.08,-2.84,-2.6,-2.36,-2.12,-1.88,-1.64,-1.4,-1.16,-.92,-.68,-.44,-.2,.04,.28,.52,.76,1,1.24,1.48,1.72,1.96,2.2,2.44,2.68],
[.76,-3.58,-3.34,-3.1,-2.86,-2.62,-2.38,-2.14,-1.9,-1.66,-1.42,-1.18,-.94,-.7,-.46,-.22,.02,.26,.5,.74,.98,1.22,1.46,1.7,1.94,2.18,2.42,2.66],
[.875,-3.46,-3.22,-2.98,-2.74,-2.5,-2.26,-2.02,-1.78,-1.54,-1.3,-1.06,-.82,-.58,-.34,-.1,.14,.38,.62,.86,1.1,1.34,1.58,1.82,2.06,2.3,2.54,2.78],
[.99,-3.46,-3.22,-2.98,-2.74,-2.5,-2.26,-2.02,-1.78,-1.54,-1.3,-1.06,-.82,-.58,-.34,-.1,.14,.38,.62,.86,1.1,1.34,1.58,1.82,2.06,2.3,2.54,2.78],
[1.11,-3.28,-3.04,-2.8,-2.56,-2.32,-2.08,-1.84,-1.6,-1.36,-1.12,-.88,-.64,-.4,-.2,.08,.32,.56,.8,1.04,1.28,1.52,1.76,2,2.24,2.48,2.72],
[1.22,-3.08,-2.84,-2.6,-2.36,-2.12,-1.88,-1.64,-1.4,-1.16,-.92,-.68,-.44,-.2,.34,.58,.82,1.06,1.3,1.54,1.78,2.02,2.26,2.5],
[1.38,-.96,-.75,-.4,-.28,.38,.48,.7,.92],[1.52,-.95,-.72,-.45,-.2,.32,.42,.68,.92],[1.62,-.7,-.45,.3,.62,.72,.9],[1.74,-.95,-.72,-.5,.25,.58,.72,.9],[1.86,-.95,-.74,-.42,.45,.7,.95],[1.96,-.72,-.4,.45,.78,.95]];
const cRows=['MP31559','MP32586','MP16168','MP29671','MP30760','MP30949','MP14367','MP5519','MP3993','MP5520','MP589','MP12729','MP28882','MP28257','MP29492','MP29973','MP29974','MP28391','MP9184','MP18357','MP3311','MP9406'];
const cCols=['POF4','POF1','POF2','POF3','NC4','NC1','NC2','NC3'];
const cVals=[[1.06,.72,.78,1.17,-.5,-1.4,-.5,-.84],[.45,1,.09,1.3,-.02,-1.8,-.53,-.22],[1.12,.1,1,1.08,.08,-.6,-1.03,-1.42],[.84,1.18,.9,.72,-1.27,-1,-.33,-.67],[.45,1.18,1.18,.84,-1.3,-.6,-.8,-.6],[-.7,-.8,-.7,-.47,-.5,1.5,1.12,.84],[-.75,-.67,-.7,-.78,-.14,1.8,1.08,.4],[-.75,-.8,-.39,-1.12,.16,1.55,1.12,.5],[-1.22,-.1,-1.18,-.67,.65,1.5,.36,.84],[-1.3,.06,-.73,-.53,-.3,1.63,1,.36],[.05,.09,-1.22,-1.63,.72,.45,.8,1],[-.36,-.11,-1.3,-1.06,.13,1,1.42,.58],[-.84,-.39,-.84,-1,-.1,1.08,1.35,.9],[.14,-.42,-1.6,-.95,.22,1.3,.67,.8],[.22,-.44,-1.12,-1.22,0,1.52,1.06,.11],[-1.55,.13,-.53,-.67,.78,-.16,.78,1.48],[-1.62,.15,-.7,-.7,.78,.16,.9,1.27],[-1.5,-.33,-.08,-.84,1.57,.33,.11,.9],[-1.18,-.5,-.44,-.7,1.75,-.03,.24,1.06],[-.22,-1.63,-.02,-.7,1.52,.11,.9,.33],[-.02,-.8,-1.25,-.73,1.8,.75,.33,.24],[.19,-.84,-1.35,-.47,.9,.8,1.42,-.42]];
const dRows=['MN11256','MN8878','MN13746','MN15312','MN14521','MN16053','MN15691','MN12690','MN14597','MN21350','MN14841','MN24570','MN25832','MN15522','MN13803','MN13841','MN28316','MN29437','MN8451'];
const dCols=['POF4','POF2','POF1','POF3','NC1','NC2','NC3','NC4'];
const dVals=[[-.75,-.11,-.95,-1.55,1.8,.42,.09,.6],[-.78,-.06,-1.12,-1.8,.72,1,.92,.72],[-.9,-1.32,-.39,-1.03,1.52,1.18,.52,-.03],[-1.4,-.95,-.16,-1.25,1.3,1.15,.7,.16],[-1.15,-.58,-.7,-1.18,1.22,1.55,.67,-.33],[-1.18,-.53,-.6,-1.08,1.22,1.55,.75,-.6],[-1.27,-.39,-.73,-1,1.6,1.12,.58,-.55],[-1.4,-.36,-.39,-1.08,1.8,1.03,.27,-.47],[-1.32,-.67,-.42,-1.12,1.6,1.22,.39,-.22],[-1.47,-.58,-.44,-1.06,1.52,1.2,.47,-.11],[-1.6,-.84,-1,-.11,1.62,.58,.84,.03],[-1.8,-.86,.05,-.7,1.57,.67,.7,-.06],[-1.8,-.63,-.42,-.55,1.57,1.03,.33,-.05],[-1.8,-.5,-.53,-1,1.03,1.06,.87,.47],[-1.4,-1.06,-.73,-.78,1.3,.95,.92,.36],[-1.18,-.9,-.75,-1.22,1.38,1.03,.8,.3],[1.35,1.2,-.33,.67,.06,-.98,-1.55,-.88],[1.38,-.58,.78,1.22,-.7,-1.47,-.47,-.73],[.27,.75,.55,1.55,-1.27,-1.62,-.11,-.58]];
const colorTicks=['1.5','1.0','0.5','0.0','\u22120.5','\u22121.0','\u22121.5'];
const groupNames=['POF','NC'];
const groupColors=['#00d8e0','#ff8f88'];
// dendrograms: [height, childA, childB]; leaf = row/column index
const cTop=[125,[55,0,[50,1,[33,2,3]]],[81,4,[61,5,[44,6,7]]]];
const dTop=[125,[46,0,[40,1,[33,2,3]]],[69,[32,4,5],[34,6,7]]];
const cLeft=[123,[54,[34,0,1],[51,2,[18,3,4]]],[80,[61,[40,[25,5,[14,6,7]],[31,8,9]],[43,10,[35,[21,11,12],[27,13,14]]]],[76,[35,[9,15,16],[14,17,18]],[51,19,[40,20,21]]]]];
const dLeft=[123,[53,[33,0,1],[39,[28,[17,2,3],[24,[7,4,5],[13,[14,6,7],[4,8,9]]]],[33,10,[26,[17,11,12],[21,13,[13,14,15]]]]]],[61,16,[43,17,18]]];

const expand=rows=>rows.flatMap(([y,...xs])=>xs.map(x=>[x,y]));
const series=[],grids=[],xAxes=[],yAxes=[],graphic=[],visualMaps=[],legends=[];
// y is the text baseline; canvas "middle" sits about .3375em above it
const TXT=(t,x,y,size,extra)=>graphic.push({type:'text',x,y:y-.3375*size,silent:true,style:Object.assign({text:t,fill:'#000',font:size+'px '+FONT,align:'left',verticalAlign:'middle'},extra||{})});
function addGrid(g,x,y){const i=grids.length;grids.push(Object.assign({containLabel:false,outerBoundsMode:'none'},g));xAxes.push(Object.assign({gridIndex:i},x));yAxes.push(Object.assign({gridIndex:i},y));return i;}
function volcano(o){
 const al={fontFamily:FONT,fontSize:72,color:'#000',formatter:v=>String(v).replace('-','\u2212')};
 const ln={show:true,onZero:false,lineStyle:{color:'#000',width:4}};
 const tk=(len,vals)=>({show:true,inside:true,length:len,lineStyle:{color:'#000',width:4},customValues:vals});
 const i=addGrid(o.rect,
  {type:'value',min:o.xr[0],max:o.xr[1],axisLine:ln,axisTick:tk(18,o.xt),axisLabel:Object.assign({margin:30,customValues:o.xt},al),splitLine:{show:false}},
  {type:'value',min:o.yr[0],max:o.yr[1],axisLine:ln,axisTick:tk(23,o.yt),axisLabel:Object.assign({margin:34,customValues:o.yt},al),splitLine:{show:false}});
 const sc=(name,data,color)=>series.push({type:'scatter',name,data,xAxisIndex:i,yAxisIndex:i,symbolSize:13,itemStyle:{color,opacity:1},silent:true,clip:false});
 sc(o.names[1],o.down,'#0000ff');sc(o.names[2],o.gray,'#bebebe');sc(o.names[0],o.up,'#ff0000');
 const dash=(data)=>series.push({type:'line',data,xAxisIndex:i,yAxisIndex:i,showSymbol:false,silent:true,clip:false,lineStyle:{color:'#000',width:4.5,type:[31,31]}});
 fcCut.forEach(c=>dash([[c,o.yr[0]],[c,o.yr[1]]]));
 dash([[o.xr[0],pCut],[o.hEnd,pCut]]);
 legends.push({data:o.names,left:o.leg[0],top:o.leg[1],orient:'vertical',padding:0,itemGap:o.legGap,itemWidth:31,itemHeight:31,icon:'circle',selectedMode:false,textStyle:{fontFamily:FONT,fontSize:75,color:'#000',padding:[0,0,0,14]}});
}
volcano({rect:{left:423,top:53,width:973,height:962},xr:[-9.1,9.58],yr:[-.574,6.47],xt:[-5,0,5],yt:[0,1,2,3,4,5,6],hEnd:9.58,
 names:['Up (298)','Down (505)','No difference (27 792)'],up:aUp.concat(expand(aUpFill)),down:aDown.concat(expand(aDownFill)),gray:aGrayPts.concat(expand(aGrayRows),expand(aGrayRows2)),leg:[1388,58],legGap:7});
volcano({rect:{left:2391,top:80,width:1019,height:939},xr:[-11.48,10.1],yr:[-.734,8.21],xt:[-10,-5,0,5,10],yt:[0,2,4,6,8],hEnd:10.3,
 names:['Up (257)','Down (437)','No difference (20 480)'],up:bUp.concat(expand(bUpFill)),down:bDown.concat(expand(bDownFill)),gray:bGrayPts.concat(expand(bGrayRows),expand(bGrayRows2)),leg:[3025,84],legGap:6});

function leafLines(tree,horizontal){
 const out=[];
 const walk=n=>{ if(typeof n==='number') return [n+.5,0];
  const a=walk(n[1]),b=walk(n[2]),h=n[0];
  const pts=[[a[0],a[1]],[a[0],h],[b[0],h],[b[0],b[1]]];
  out.push({coords:horizontal?pts.map(p=>[p[1],p[0]]):pts});
  return [(a[0]+b[0])/2,h];};
 walk(tree);return out;
}
function heat(o){
 const nC=o.cols.length,nR=o.rows.length;
 const axisHidden={show:false};
 const lbl={fontFamily:FONT,color:'#000',interval:0};
 const i=addGrid({left:o.left,top:1485,width:o.width,height:1396},
  {type:'category',data:o.cols,axisLine:axisHidden,axisTick:axisHidden,splitLine:axisHidden,axisLabel:Object.assign({rotate:90,fontSize:78,margin:17,verticalAlign:'top',lineHeight:30},lbl)},
  {type:'category',data:o.rows,inverse:true,position:'right',axisLine:axisHidden,axisTick:axisHidden,splitLine:axisHidden,axisLabel:Object.assign({fontSize:64,margin:8,verticalAlign:'bottom',lineHeight:32},lbl)});
 const data=[];o.vals.forEach((r,y)=>r.forEach((v,x)=>data.push([x,y,v])));
 const si=series.push({type:'heatmap',data,xAxisIndex:i,yAxisIndex:i,silent:true,itemStyle:{borderWidth:0}})-1;
 visualMaps.push({type:'continuous',min:-1.8,max:1.8,seriesIndex:si,inRange:{color:['#0000ff','#ffffff','#ff0000']},left:o.bar,top:1452,itemWidth:23,itemHeight:353,padding:0,calculable:false,hoverLink:false,text:null});
 const j=addGrid({left:o.left,top:1455,width:o.width,height:23},
  {type:'category',data:o.cols,axisLine:axisHidden,axisTick:axisHidden,axisLabel:axisHidden},
  {type:'category',data:['Treat'],axisLine:axisHidden,axisTick:axisHidden,axisLabel:axisHidden});
 series.push({type:'heatmap',xAxisIndex:j,yAxisIndex:j,silent:true,data:o.cols.map((c,x)=>({value:[x,0,c.startsWith('POF')?0:1],itemStyle:{color:groupColors[c.startsWith('POF')?0:1]}}))});
 const k=addGrid({left:o.left,top:1324,width:o.width,height:130},
  {type:'value',min:0,max:nC,show:false},{type:'value',min:0,max:130,show:false});
 series.push({type:'lines',coordinateSystem:'cartesian2d',xAxisIndex:k,yAxisIndex:k,polyline:true,silent:true,data:leafLines(o.top,false),lineStyle:{color:'#000',width:3.5,opacity:1}});
 const m=addGrid({left:o.left-130,top:1485,width:130,height:1396},
  {type:'value',min:0,max:130,inverse:true,show:false},{type:'value',min:0,max:nR,inverse:true,show:false});
 series.push({type:'lines',coordinateSystem:'cartesian2d',xAxisIndex:m,yAxisIndex:m,polyline:true,silent:true,data:leafLines(o.tree,true),lineStyle:{color:'#000',width:3.5,opacity:1}});
 TXT('Heatmap',o.titleX,1305,74,{align:'center'});
 TXT('Treat 1',o.t1,1440,62);
 TXT('Treat 1',o.t2,1440,62);
 graphic.push({type:'rect',silent:true,shape:{x:o.sw,y:1478,width:33,height:34},style:{fill:groupColors[0]}});
 graphic.push({type:'rect',silent:true,shape:{x:o.sw,y:o.ncY,width:33,height:34},style:{fill:groupColors[1]}});
 TXT(groupNames[0],o.sw+40,o.pofB,62);
 TXT(groupNames[1],o.sw+40,o.ncB,62);
 colorTicks.forEach((t,n)=>graphic.push({type:'text',x:o.tickR,y:o.tickY[n],silent:true,style:{text:t,fill:'#000',font:'60px '+FONT,align:'right',verticalAlign:'middle'}}));
}
heat({left:129.4,width:1275.6,rows:cRows,cols:cCols,vals:cVals,top:cTop,tree:cLeft,bar:1686,titleX:663,t1:1414,t2:1872,sw:1869,ncY:1536,pofB:1518,ncB:1577,tickR:1835,tickY:[1465,1514,1564,1613,1662,1711,1762]});
heat({left:2105.5,width:1276.5,rows:dRows,cols:dCols,vals:dVals,top:dTop,tree:dLeft,bar:3661,titleX:2720,t1:3390,t2:3837,sw:3834,ncY:1528,pofB:1504,ncB:1569,tickR:3812,tickY:[1466,1517,1569,1621,1672,1725,1777]});

TXT('A',140,66,72);TXT('B',2170,64,72);TXT('C',8,1292,72);TXT('D',1971,1291,72);
const rich={a:{font:'74px '+FONT,fill:'#000'},i:{font:'italic 74px '+FONT,fill:'#000'},s:{font:'46px '+FONT,fill:'#000',verticalAlign:'bottom',padding:[22,0,0,0]}};
const yName='{a|\u2212log}{s|10}{a| (}{i|P}{a| value)}', xName='{a|log}{s|2}{a| FC}';
[[274,540],[2240,608]].forEach(p=>graphic.push({type:'text',x:p[0],y:p[1],rotation:Math.PI/2,silent:true,style:{text:yName,rich,font:'74px '+FONT,align:'center',verticalAlign:'middle'}}));
[[897,1167],[2927,1167]].forEach(p=>graphic.push({type:'text',x:p[0],y:p[1],silent:true,style:{text:xName,rich,font:'74px '+FONT,align:'center',verticalAlign:'middle'}}));

const chart=echarts.init(document.getElementById('c'),null,{renderer:'canvas'});
chart.setOption({animation:false,backgroundColor:'#fff',tooltip:{show:false},grid:grids,xAxis:xAxes,yAxis:yAxes,series,visualMap:visualMaps,legend:legends,graphic:{elements:graphic}});
</script></body></html>
